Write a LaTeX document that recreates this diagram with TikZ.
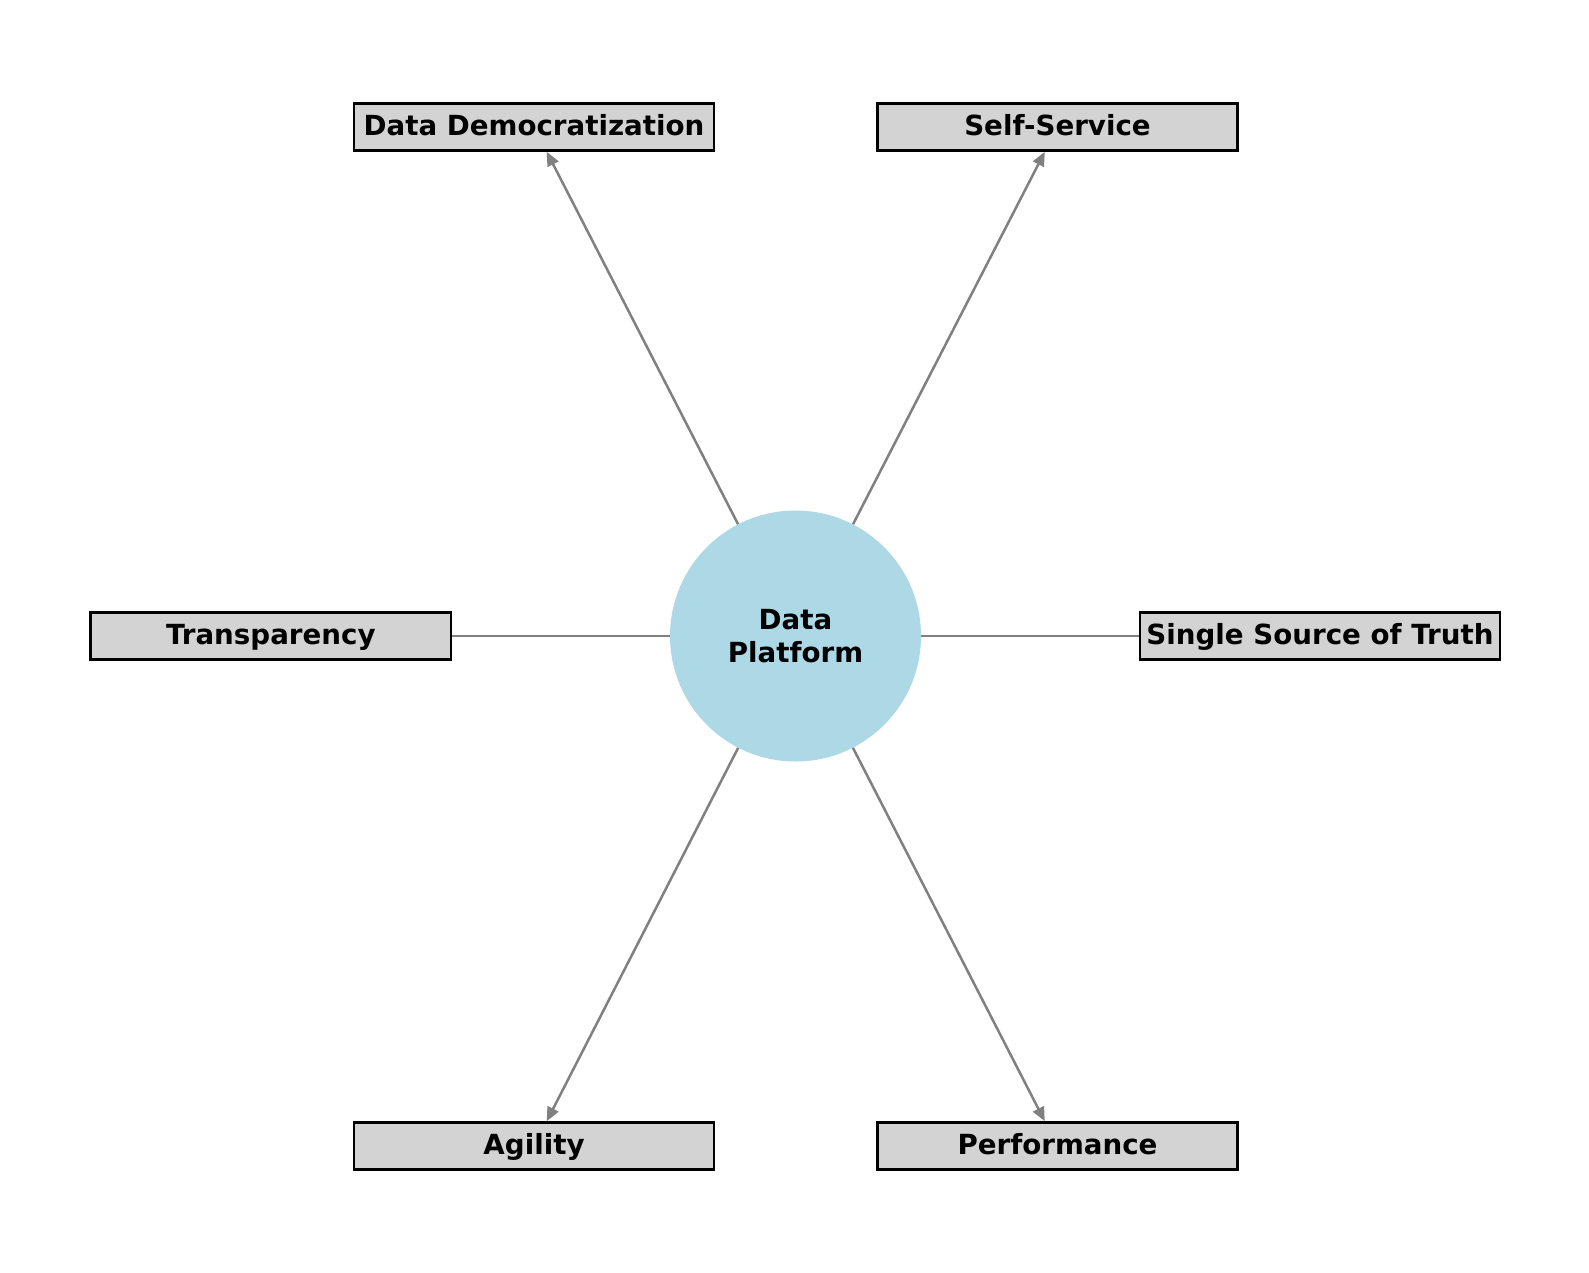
\documentclass[tikz,border=0pt]{standalone}
\usepackage{fontspec}
\setmainfont{DejaVu Sans}
\usetikzlibrary{arrows.meta}
\definecolor{hubblue}{RGB}{173,216,230}
\definecolor{boxgray}{RGB}{211,211,211}
\definecolor{linkgray}{RGB}{128,128,128}
\tikzset{
  hub/.style={circle, fill=hubblue, minimum size=251bp, inner sep=0pt, align=center,
    font=\fontsize{27.7bp}{32.2bp}\selectfont\bfseries},
  valuebox/.style={rectangle, draw=black, line width=2.6bp, fill=boxgray,
    minimum width=360bp, minimum height=47bp, inner sep=0pt,
    text height=21bp, text depth=4bp,
    font=\fontsize{27.7bp}{32.8bp}\selectfont\bfseries},
  link/.style={draw=linkgray, line width=2.5bp},
  arrowlink/.style={link, -{Triangle[length=14bp,width=12bp]}},
}
\begin{document}
\begin{tikzpicture}[x=1bp,y=-1bp]
\useasboundingbox (0,0) rectangle (1589,1272);
\node[hub] (hub) at (795.5,636) {Data\\Platform};
\node[valuebox] (dd) at (534,127) {Data Democratization};
\node[valuebox] (ss) at (1057.5,127) {Self-Service};
\node[valuebox] (tr) at (270.8,636) {Transparency};
\node[valuebox] (sst) at (1320,636) {Single Source of Truth};
\node[valuebox] (ag) at (534,1146) {Agility};
\node[valuebox] (pf) at (1057.5,1146) {Performance};
\draw[arrowlink] (hub) -- (dd);
\draw[arrowlink] (hub) -- (ss);
\draw[arrowlink] (hub) -- (ag);
\draw[arrowlink] (hub) -- (pf);
\draw[link] (hub) -- (tr);
\draw[link] (hub) -- (sst);
\end{tikzpicture}
\end{document}
